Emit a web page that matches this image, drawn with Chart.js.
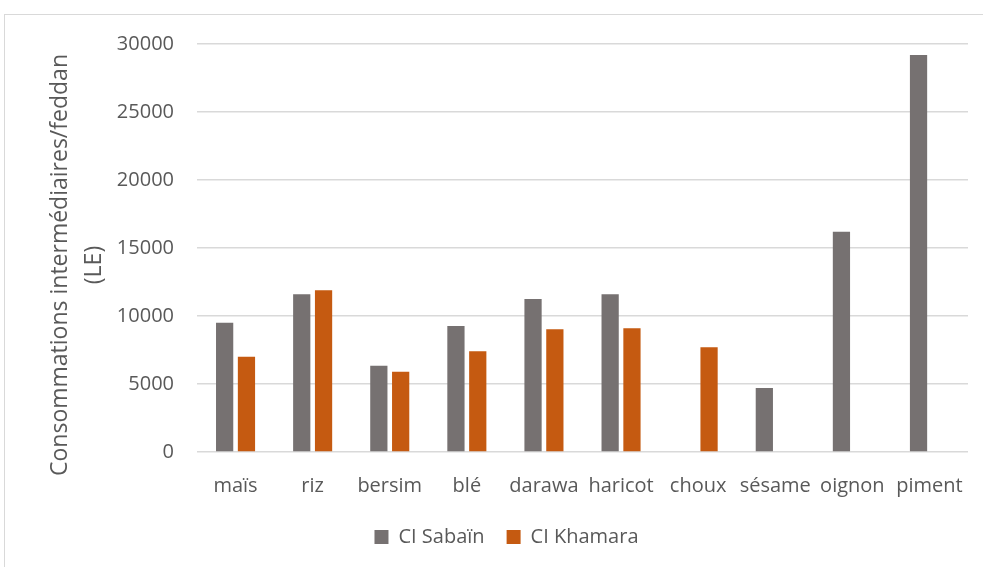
<!DOCTYPE html>
<html>
<head>
<meta charset="utf-8">
<script src="https://cdn.jsdelivr.net/npm/chart.js@4/dist/chart.umd.min.js"></script>
<style>
    html, body { margin: 0; padding: 0; background: #fff; overflow: hidden; }
    #wrap { position: relative; width: 983px; height: 567px; }
    #frame {
        position: absolute; left: 4px; top: 14px;
        width: 1100px; height: 700px;
        border: 1px solid #d9d9d9;
    }
    #chart { position: absolute; left: 0; top: 0; }
</style>
</head>
<body>
<div id="wrap">
    <div id="frame"></div>
    <canvas id="chart" width="983" height="567"></canvas>
</div>
<script>
// cultures et consommations intermédiaires (LE / feddan)
const categories = ['maïs', 'riz', 'bersim', 'blé', 'darawa', 'haricot', 'choux', 'sésame', 'oignon', 'piment'];
const ciSabain = [9500, 11600, 6350, 9270, 11250, 11600, null, 4700, 16200, 29200];
const ciKhamara = [7000, 11900, 5900, 7400, 9020, 9100, 7700, null, null, null];
const yTicks = [0, 5000, 10000, 15000, 20000, 25000, 30000];
const yTitle = ['Consommations intermédiaires/feddan', '(LE)'];

const FONT = "'Open Sans', 'DejaVu Sans', sans-serif";
const TEXT = '#595959';

// titre de l'axe Y, dessiné à la main pour le centrer comme dans Excel
const axisTitle = {
    id: 'axisTitle',
    afterDraw(chart) {
        const ctx = chart.ctx;
        ctx.save();
        ctx.font = '23px ' + FONT;
        ctx.fillStyle = TEXT;
        ctx.textAlign = 'center';
        ctx.textBaseline = 'alphabetic';
        const baselines = [67, 101];
        yTitle.forEach((line, i) => {
            ctx.save();
            ctx.translate(baselines[i], 265);
            ctx.rotate(-Math.PI / 2);
            ctx.fillText(line, 0, 0);
            ctx.restore();
        });
        ctx.restore();
    }
};

const ctx = document.getElementById('chart').getContext('2d');
new Chart(ctx, {
    type: 'bar',
    data: {
        labels: categories,
        datasets: [
            {
                label: 'CI Sabaïn',
                data: ciSabain,
                backgroundColor: '#767171',
                borderWidth: 0
            },
            {
                label: 'CI Khamara',
                data: ciKhamara,
                backgroundColor: '#c55a11',
                borderWidth: 0
            }
        ]
    },
    options: {
        responsive: false,
        animation: false,
        categoryPercentage: 0.566,
        barPercentage: 0.79,
        layout: {
            // marge gauche pour centrer la légende sur tout le cadre
            padding: { top: 44, right: 15, bottom: 10, left: 45 }
        },
        plugins: {
            legend: {
                position: 'bottom',
                labels: {
                    color: TEXT,
                    font: { family: FONT, size: 20 },
                    boxWidth: 14,
                    boxHeight: 14,
                    padding: 22
                }
            },
            tooltip: { enabled: false }
        },
        scales: {
            x: {
                grid: { display: false },
                border: { display: false },
                ticks: {
                    color: TEXT,
                    font: { family: FONT, size: 20 },
                    padding: 14,
                    maxRotation: 0,
                    autoSkip: false
                },
                afterFit(scale) { scale.height = 53; }
            },
            y: {
                min: 0,
                max: 30000,
                afterBuildTicks(scale) {
                    scale.ticks = yTicks.map(v => ({ value: v }));
                },
                grid: { color: '#d9d9d9', lineWidth: 1.5, drawTicks: false },
                border: { display: false },
                ticks: {
                    color: TEXT,
                    font: { family: FONT, size: 20 },
                    padding: 23,
                    callback: v => String(v)
                },
                afterFit(scale) { scale.width = 152; }
            }
        }
    },
    plugins: [axisTitle]
});
</script>
</body>
</html>
